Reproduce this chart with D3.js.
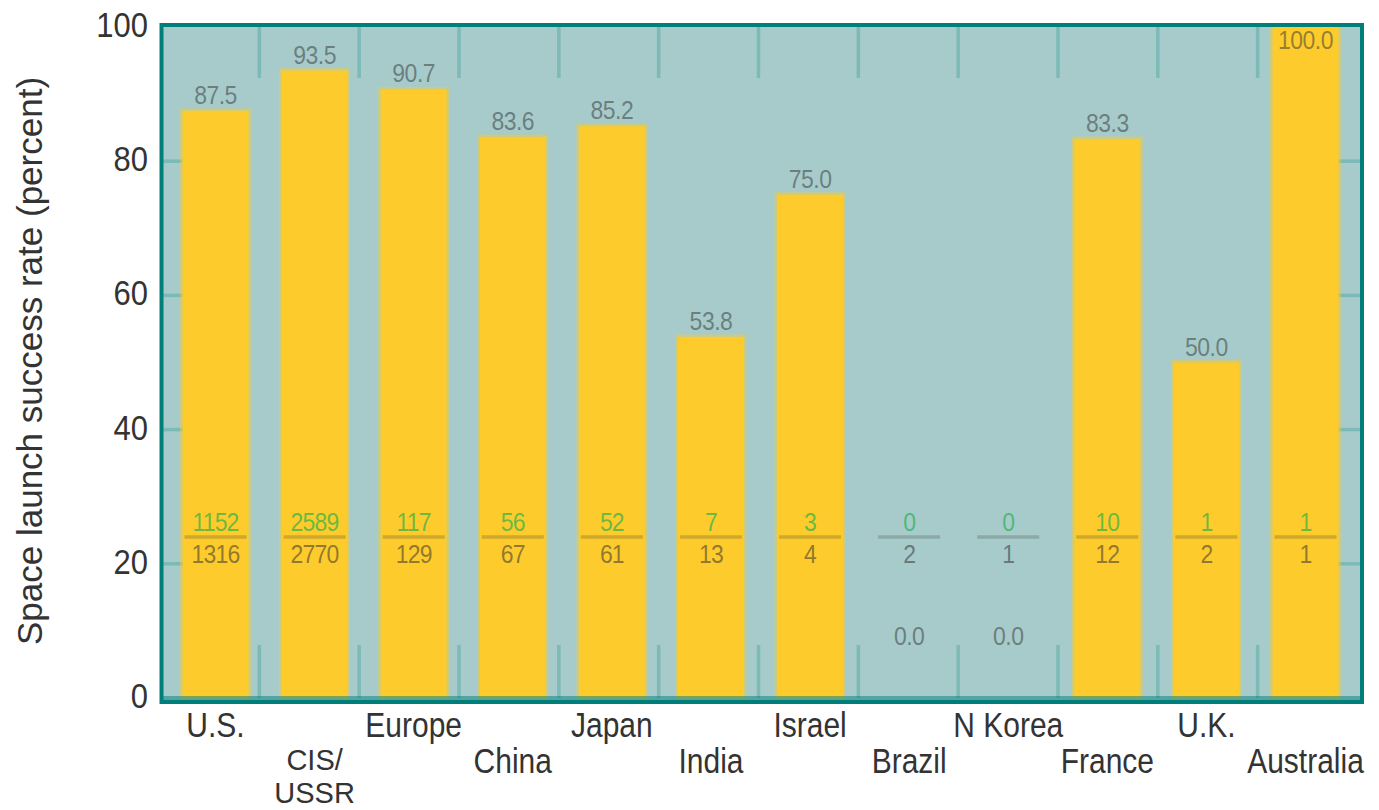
<!DOCTYPE html>
<html>
<head>
<meta charset="utf-8">
<script src="https://cdn.jsdelivr.net/npm/d3@7"></script>
<style>
  html, body { margin: 0; padding: 0; background: #ffffff; }
  svg { display: block; }
  text { font-family: "Liberation Sans", Arial, sans-serif; }
</style>
</head>
<body>
<svg id="chart" width="1379" height="810"></svg>
<script>
// Space launch record by country / agency
const categories = ["U.S.", "CIS/\nUSSR", "Europe", "China", "Japan", "India", "Israel", "Brazil", "N Korea", "France", "U.K.", "Australia"];
const successes  = [1152, 2589, 117, 56, 52, 7, 3, 0, 0, 10, 1, 1];
const attempts   = [1316, 2770, 129, 67, 61, 13, 4, 2, 1, 12, 2, 1];
const successRate = [87.5, 93.5, 90.7, 83.6, 85.2, 53.8, 75.0, 0.0, 0.0, 83.3, 50.0, 100.0];
const yTicks = [0, 20, 40, 60, 80, 100];
const yTitle = "Space launch success rate (percent)";

const rows = categories.map((c, i) => ({
  name: c, rate: successRate[i], ok: successes[i], total: attempts[i], i
}));

const C = {
  bg: "#a6cbca", frame: "#007e7a", tick: "#7bbab6", bar: "#fdcb2b",
  text: "#333333", label: "#333333", green: "#22b14c"
};
const VS = 1.15; // vertical stretch of the lettering

const svg = d3.select("#chart");
const plot = { left: 161.5, top: 25, right: 1362, bottom: 702 };

const y = d3.scaleLinear().domain([0, 100]).range([698, 27]);
// bars
const x = d3.scaleBand().domain(categories).range([166, 1355]).paddingInner(0.335).paddingOuter(0.167);
// separators between categories
const xGrid = d3.scaleBand().domain(categories).range([159.5, 1357.5]);

// text placed at baseline with vertical stretch
function stretched(sel, fx, fy) {
  return sel.attr("transform", (d, i) => `translate(${fx(d, i)},${fy(d, i)}) scale(1,${VS})`);
}

// panel
svg.append("rect")
  .attr("x", plot.left).attr("y", plot.top)
  .attr("width", plot.right - plot.left).attr("height", plot.bottom - plot.top)
  .attr("fill", C.bg);

// horizontal tick marks on both sides
const gTicks = svg.append("g").attr("stroke", C.tick).attr("stroke-width", 3.5);
yTicks.filter(t => t > 0 && t < 100).forEach(t => {
  gTicks.append("line").attr("x1", 163).attr("x2", 190).attr("y1", y(t)).attr("y2", y(t));
  gTicks.append("line").attr("x1", 1333).attr("x2", 1360).attr("y1", y(t)).attr("y2", y(t));
});
// vertical separators top and bottom
categories.slice(1).forEach(c => {
  const gx = xGrid(c);
  gTicks.append("line").attr("x1", gx).attr("x2", gx).attr("y1", 27).attr("y2", 78);
  gTicks.append("line").attr("x1", gx).attr("x2", gx).attr("y1", 645).attr("y2", 698);
});

// bars
svg.append("g").selectAll("rect").data(rows).join("rect")
  .attr("x", d => x(d.name))
  .attr("y", d => y(d.rate))
  .attr("width", x.bandwidth())
  .attr("height", d => y(0) - y(d.rate))
  .attr("fill", C.bar)
  .attr("stroke", C.bar).attr("stroke-opacity", d => d.rate > 0 ? 0.45 : 0)
  .attr("stroke-width", 5);

const cx = d => x(d.name) + x.bandwidth() / 2;

// rate labels
const topRoom = 22;
svg.append("g").selectAll("text").data(rows).join("text")
  .call(s => stretched(s, cx, d => {
    const above = y(d.rate) - 7;
    if (above - topRoom < y(100)) return y(d.rate) + 22;      // no room above: inside bar
    return Math.min(above, y(0) - 53);                        // clear of the lower tick marks
  }))
  .attr("text-anchor", "middle")
  .attr("font-size", 23).attr("letter-spacing", -0.5)
  .attr("fill", C.label).attr("fill-opacity", 0.52)
  .text(d => d3.format(".1f")(d.rate));

// successes / attempts fractions
const fracLineY = 537, numY = 531, denY = 563;
const gFrac = svg.append("g");
gFrac.selectAll("text.num").data(rows).join("text").attr("class", "num")
  .call(s => stretched(s, cx, () => numY))
  .attr("text-anchor", "middle").attr("font-size", 23).attr("letter-spacing", -0.8)
  .attr("fill", C.green).attr("fill-opacity", 0.68)
  .text(d => d.ok);
gFrac.selectAll("line").data(rows).join("line")
  .attr("x1", d => cx(d) - 31).attr("x2", d => cx(d) + 31)
  .attr("y1", fracLineY).attr("y2", fracLineY)
  .attr("stroke", C.text).attr("stroke-opacity", 0.22).attr("stroke-width", 3.5);
gFrac.selectAll("text.den").data(rows).join("text").attr("class", "den")
  .call(s => stretched(s, cx, () => denY))
  .attr("text-anchor", "middle").attr("font-size", 23).attr("letter-spacing", -0.8)
  .attr("fill", C.text).attr("fill-opacity", 0.55)
  .text(d => d.total);

// baseline and frame
svg.append("line")
  .attr("x1", 163).attr("x2", 1360).attr("y1", 698).attr("y2", 698)
  .attr("stroke", C.frame).attr("stroke-opacity", 0.5).attr("stroke-width", 4);
svg.append("rect")
  .attr("x", plot.left).attr("y", plot.top)
  .attr("width", plot.right - plot.left).attr("height", plot.bottom - plot.top)
  .attr("fill", "none").attr("stroke", C.frame).attr("stroke-width", 4);

// y-axis tick labels
svg.append("g").selectAll("text").data(yTicks).join("text")
  .call(s => stretched(s, () => 148, t => y(t) + 10))
  .attr("text-anchor", "end").attr("font-size", 31)
  .attr("fill", C.text)
  .text(t => t);

// y-axis title
svg.append("text")
  .attr("transform", "translate(42,361) rotate(-90)")
  .attr("text-anchor", "middle").attr("font-size", 35)
  .attr("fill", C.text)
  .text(yTitle);

// category labels, staggered on two rows; two-line names set a little tighter
const rowBase = [737, 773];
const gCat = svg.append("g");
rows.forEach(d => {
  const lines = d.name.split("\n");
  const multi = lines.length > 1;
  const base = multi ? 770 : rowBase[d.i % 2];
  const fs = multi ? 29 : 30;
  const vs = multi ? 1 : VS;
  lines.forEach((line, k) => {
    gCat.append("text")
      .attr("transform", `translate(${cx(d)},${base + k * 33}) scale(1,${vs})`)
      .attr("text-anchor", "middle").attr("font-size", fs)
      .attr("fill", C.text)
      .text(line);
  });
});
</script>
</body>
</html>
